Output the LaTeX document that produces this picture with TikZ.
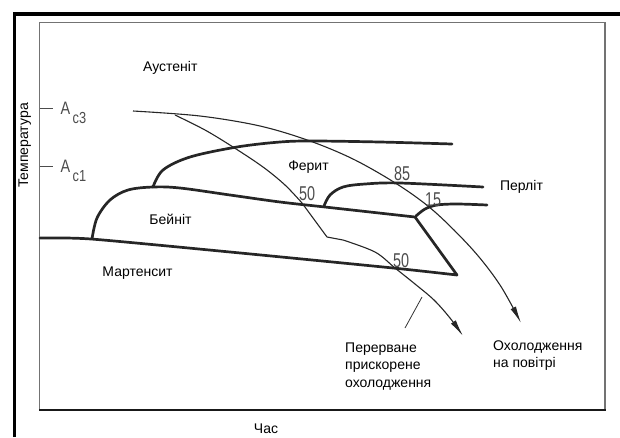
\documentclass[tikz,border=0pt]{standalone}
\usepackage{fontspec}
\setmainfont{Liberation Sans}
\usetikzlibrary{arrows.meta}
\newcommand{\numtxt}[1]{{\fontsize{20}{20}\selectfont\scalebox{0.72}[1]{#1}}}
\newcommand{\abig}{{\fontsize{18}{18}\selectfont\scalebox{0.8}[1]{A}}}
\newcommand{\asub}[1]{{\fontsize{16}{16}\selectfont\scalebox{0.8}[1]{#1}}}
\begin{document}
\begin{tikzpicture}[x=1pt,y=-1pt,
  lbl/.style={inner sep=0pt, font=\fontsize{14}{17.5}\selectfont},
  techlbl/.style={inner sep=0pt, text=black!70},
  thickc/.style={line width=2.7pt, black!85, line join=round, line cap=round},
  thinc/.style={line width=1.1pt, black!85, line join=round},
  arr/.style={-{Latex[length=17pt,width=6pt]}}]
\useasboundingbox (0,0) rectangle (620,437);
% frames
\draw[line width=3.4pt, black] (14.5,437) -- (14.5,13.8) -- (620,13.8);
\draw[line width=1.3pt, black!55] (39.5,410) -- (39.5,22.5) -- (605,22.5) -- (605,410);
\draw[line width=1.3pt, black!90] (39,410) -- (605.6,410);
% ticks
\draw[line width=1pt, black!70] (40,108) -- (53,108);
\draw[line width=1pt, black!70] (40,166.7) -- (53,166.7);
\node[techlbl, anchor=base west] (a3) at (60.5,114) {\abig};
\node[techlbl, anchor=base west] (c3) at (72.5,123) {\asub{c3}};
\node[techlbl, anchor=base west] (a1) at (60.5,172) {\abig};
\node[techlbl, anchor=base west] (c1) at (72.5,181) {\asub{c1}};
% air cooling curve
\draw[thinc, arr] plot[smooth, tension=0.55] coordinates {(133,111) (200,116) (260,126) (310,141) (355,160) (400,186) (435,212) (473,250) (500,285) (521,323)};
% interrupted accelerated cooling
\draw[thinc, arr] plot[smooth, tension=0.55] coordinates {(175,115) (205,130) (233,147) (263,167) (285,185) (302,203)} -- (327,237) -- (343,240) -- plot[smooth, tension=0.55] coordinates {(343,240) (375,252) (395,268) (415,284) (434,300) (450,318) (463,336)};
% top thick curve (ferrite start)
\draw[thickc] plot[smooth, tension=0.55] coordinates {(153,187) (163,170) (190,157) (237,147) (280,142) (313,141) (380,142) (452,144)};
% bainite + martensite outline
\draw[thickc] plot[smooth, tension=0.55] coordinates {(92,239) (97,218) (110,200) (128,190) (153,187) (180,188) (230,195) (280,202) (325,207) (370,212) (415,217)} -- (457,275) -- plot[smooth, tension=0.4] coordinates {(457,275) (393,268) (230,252) (91,239) (40,238)};
% pearlite curves
\draw[thickc] plot[smooth, tension=0.55] coordinates {(324,206) (330,195) (343,187) (365,184) (400,183) (483,187)};
\draw[thickc] plot[smooth, tension=0.55] coordinates {(416,216) (425,209) (437,205) (457,204) (487,205)};
% leader
\draw[line width=0.8pt, black!80] (422,297) -- (405,328);
% numbers
\node[techlbl, anchor=base west] (n50a) at (299,200) {\numtxt{50}};
\node[techlbl, anchor=base west] (n85) at (394,180) {\numtxt{85}};
\node[techlbl, anchor=base west] (n15) at (425,206) {\numtxt{15}};
\node[techlbl, anchor=base west] (n50b) at (393,267) {\numtxt{50}};
% labels
\node[lbl, anchor=base] (aus) at (170.3,71.7) {Аустеніт};
\node[lbl, anchor=base, rotate=90] (temp) at (28,145.5) {Температура};
\node[lbl] (fer) at (308.5,167) {Ферит};
\node[lbl] (per) at (521.5,187) {Перліт};
\node[lbl] (bai) at (170.5,219.5) {Бейніт};
\node[lbl] (mar) at (137.5,273) {Мартенсит};
\node[lbl, anchor=base west, align=left] (intr) at (345,387) {Перерване\\прискорене\\охолодження};
\node[lbl, anchor=base west, align=left] (air) at (493,367.5) {Охолодження\\на повітрі};
\node[lbl] (time) at (266,429) {Час};
\end{tikzpicture}
\end{document}
